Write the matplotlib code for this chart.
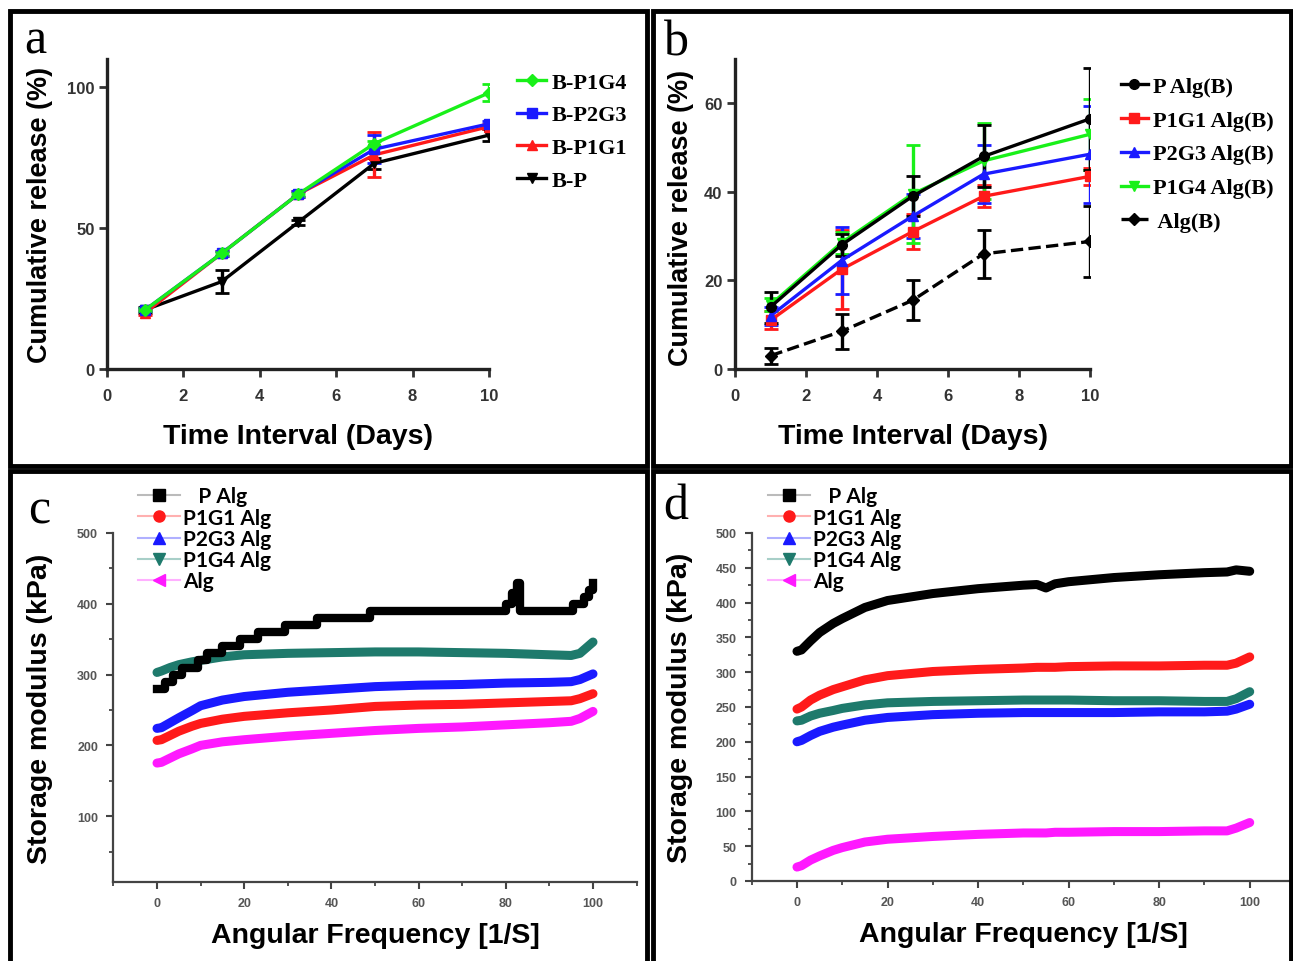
#!/usr/bin/env python3
"""
Four-panel figure: cumulative release curves (a, b) and storage modulus sweeps (c, d).
Output: out.png (1293x962)
"""
import matplotlib
matplotlib.use("Agg")
import matplotlib.pyplot as plt
from matplotlib.lines import Line2D
from matplotlib.patches import Rectangle
from matplotlib.ticker import MultipleLocator

# ---- panel a: cumulative release, days ----
days = [1, 3, 5, 7, 10]
a_p1g4 = [21, 41, 62, 80, 98]
a_p1g4_err = [0.5, 0.5, 0.5, 1, 3]
a_p2g3 = [21, 41, 62, 78, 87]
a_p2g3_err = [0.5, 1, 1, 5, 1]
a_p1g1 = [20, 41, 62, 76, 86]
a_p1g1_err = [1, 1, 1, 8, 1]
a_bp = [21, 31, 52, 73, 83]
a_bp_err = [1, 4, 1, 2, 2]

# ---- panel b ----
b_palg = [14, 28, 39, 48, 56.5]
b_palg_err = [3.5, 2.5, 4.5, 7, 11.5]
b_p1g1 = [11, 22.5, 31, 39, 43.5]
b_p1g1_err = [2, 9, 4, 2.5, 2]
b_p2g3 = [12, 24.5, 34.5, 44, 48.5]
b_p2g3_err = [2, 7.5, 5, 6.5, 11]
b_p1g4 = [14.5, 28.5, 39.5, 47, 53]
b_p1g4_err = [1.5, 2.5, 11, 8.5, 8]
b_alg = [3, 8.5, 15.5, 26, 28.8]
b_alg_err = [1.8, 4, 4.5, 5.5, 8]

# ---- panel c: storage modulus vs angular frequency ----
c_black_freq = [0, 1.8, 3.7, 5.7, 9.5, 11.4, 14.8, 19, 23.2, 29.4, 36.6, 48.9,
                80, 81.5, 82.5, 83.3, 95.4, 98, 99, 100]
c_black = [280, 290, 300, 310, 320, 330, 340, 350, 360, 370, 380, 390,
           400, 415, 430, 390, 400, 410, 420, 430]
c_freq = [0, 1, 3, 5, 8, 10, 15, 20, 30, 40, 50, 60, 70, 80, 90, 95, 97, 100]
c_teal = [303, 305, 310, 314, 318, 320, 325, 328, 330, 331, 332, 332, 331, 330, 328, 327, 330, 346]
c_blue = [224, 225, 232, 239, 249, 256, 264, 269, 275, 279, 283, 285, 286, 288, 289, 290, 293, 301]
c_red = [207, 208, 214, 220, 227, 231, 237, 241, 246, 250, 255, 257, 258, 260, 262, 263, 266, 273]
c_magenta = [175, 176, 182, 188, 195, 200, 205, 208, 213, 217, 221, 224, 226, 229, 232, 234, 238, 248]

# ---- panel d ----
d_freq = [0, 1, 3, 5, 8, 10, 15, 20, 30, 40, 50, 53, 55, 57, 60, 70, 80, 90, 95, 97, 100]
d_black = [330, 332, 345, 357, 370, 377, 393, 403, 413, 420, 425, 426, 421, 427, 430, 436, 440, 443, 444, 447, 445]
d_red = [247, 250, 260, 267, 275, 279, 289, 295, 301, 304, 306, 307, 307, 307, 308, 309, 309, 310, 310, 313, 322]
d_teal = [230, 231, 237, 241, 245, 248, 253, 256, 258, 259, 260, 260, 260, 260, 260, 259, 259, 258, 258, 262, 272]
d_blue = [200, 202, 209, 215, 221, 224, 231, 235, 239, 241, 242, 242, 242, 242, 242, 242, 243, 243, 244, 247, 254]
d_magenta = [20, 22, 30, 36, 44, 48, 56, 60, 64, 67, 69, 69, 69, 70, 70, 71, 71, 72, 72, 76, 84]

mod_labels = ["P Alg", "P1G1 Alg", "P2G3 Alg", "P1G4 Alg", "Alg"]

GREEN = "#19f019"
BLUE = "#1a1aff"
RED = "#ff1a1a"
TEAL = "#1e7a6c"
MAGENTA = "#ff19ff"

W, H = 1293, 962
fig = plt.figure(figsize=(W / 100, H / 100), dpi=100)


def fx(px):
    return px / W


def fy(py):
    return 1 - py / H


# panel borders
for x0, y0, x1, y1 in [(10, 12, 647, 467), (653, 12, 1291, 467),
                       (10, 472, 647, 970), (653, 472, 1291, 970)]:
    fig.patches.append(Rectangle((fx(x0), fy(y1)), fx(x1 - x0), (y1 - y0) / H,
                                 transform=fig.transFigure, fill=False,
                                 ec="black", lw=3.5, zorder=0))


def prism_axes(ax):
    for s in ["top", "right"]:
        ax.spines[s].set_visible(False)
    for s in ["left", "bottom"]:
        ax.spines[s].set_linewidth(2.4)
        ax.spines[s].set_color("#222222")
    ax.tick_params(direction="out", length=6, width=2, labelsize=12, colors="#333333", pad=3)
    ax.tick_params(axis="x", pad=8)
    for lbl in ax.get_xticklabels() + ax.get_yticklabels():
        lbl.set_fontweight("bold")
        lbl.set_fontfamily("Liberation Sans")


def release_series(ax, y, err, color, marker, ls="-", ms=7):
    ax.errorbar(days, y, yerr=err, color=color, marker=marker, ms=ms, lw=2.4, ls=ls,
                capsize=5, capthick=2, elinewidth=2.4)
    return Line2D([], [], color=color, marker=marker, ms=ms, lw=2.4, ls=ls)


LABEL_A = dict(fontsize=20.5, fontweight="bold", family="Liberation Sans")
YLABEL_A = dict(fontsize=19.5, fontweight="bold", family="Liberation Sans")
LEG_A = {"family": "Liberation Serif", "weight": "bold", "size": 16}

# ---------------- panel a ----------------
ax_a = fig.add_axes([fx(107), fy(370), fx(489 - 107), (370 - 60) / H])
h_bp = release_series(ax_a, a_bp, a_bp_err, "black", "v")
h_p1g1 = release_series(ax_a, a_p1g1, a_p1g1_err, RED, "^")
h_p2g3 = release_series(ax_a, a_p2g3, a_p2g3_err, BLUE, "s")
h_p1g4 = release_series(ax_a, a_p1g4, a_p1g4_err, GREEN, "D", ms=6)
ax_a.set_xlim(0, 10)
ax_a.set_ylim(0, 110)
ax_a.set_xticks(range(0, 11, 2))
ax_a.set_yticks([0, 50, 100])
prism_axes(ax_a)
ax_a.set_xlabel("Time Interval (Days)", labelpad=14, **LABEL_A)
ax_a.set_ylabel("Cumulative release (%)", **YLABEL_A)
ax_a.yaxis.set_label_coords((53 - 107) / 382, 0.5)
fig.legend([h_p1g4, h_p2g3, h_p1g1, h_bp], ["B-P1G4", "B-P2G3", "B-P1G1", "B-P"],
           loc="upper left", bbox_to_anchor=(fx(506), fy(62)), frameon=False, prop=LEG_A,
           handlelength=1.3, handletextpad=0.25, labelspacing=0.55, borderpad=0)
fig.text(fx(24), fy(54), "a", fontsize=36, family="Liberation Serif")

# ---------------- panel b ----------------
ax_b = fig.add_axes([fx(735), fy(370), fx(1090 - 735), (370 - 60) / H])
h_alg = release_series(ax_b, b_alg, b_alg_err, "black", "D", ls="--", ms=6)
h_r = release_series(ax_b, b_p1g1, b_p1g1_err, RED, "s")
h_bl = release_series(ax_b, b_p2g3, b_p2g3_err, BLUE, "^")
h_g = release_series(ax_b, b_p1g4, b_p1g4_err, GREEN, "v")
h_k = release_series(ax_b, b_palg, b_palg_err, "black", "o")
ax_b.set_xlim(0, 10)
ax_b.set_ylim(0, 70)
ax_b.set_xticks(range(0, 11, 2))
ax_b.set_yticks([0, 20, 40, 60])
prism_axes(ax_b)
ax_b.set_xlabel("Time Interval (Days)", labelpad=14, **LABEL_A)
ax_b.set_ylabel("Cumulative release (%)", **YLABEL_A)
ax_b.yaxis.set_label_coords((694 - 735) / 355, 0.49)
fig.legend([h_k, h_r, h_bl, h_g, h_alg],
           ["P Alg(B)", "P1G1 Alg(B)", "P2G3 Alg(B)", "P1G4 Alg(B)", " Alg(B)"],
           loc="upper left", bbox_to_anchor=(fx(1110), fy(66)), frameon=False, prop=LEG_A,
           handlelength=1.2, handletextpad=0.25, labelspacing=0.6, borderpad=0)
fig.text(fx(664), fy(56), "b", fontsize=36, family="Liberation Serif")


# ---------------- panels c, d ----------------
def origin_axes(ax, ymajor, yminor):
    for s in ["top", "right"]:
        ax.spines[s].set_visible(False)
    for s in ["left", "bottom"]:
        ax.spines[s].set_linewidth(1.6)
        ax.spines[s].set_color("#444444")
    ax.xaxis.set_major_locator(MultipleLocator(20))
    ax.xaxis.set_minor_locator(MultipleLocator(10))
    ax.yaxis.set_major_locator(MultipleLocator(ymajor))
    ax.yaxis.set_minor_locator(MultipleLocator(yminor))
    ax.tick_params(which="major", direction="out", length=5, width=1.5,
                   labelsize=9, colors="#444444", pad=6)
    ax.tick_params(which="minor", direction="out", length=3, width=1.3, colors="#444444")
    for lbl in ax.get_xticklabels() + ax.get_yticklabels():
        lbl.set_fontweight("bold")
        lbl.set_fontfamily("Liberation Sans")
        lbl.set_color("#555555")


def modulus_legend(ax, left_px, top_px):
    colors = ["black", RED, BLUE, TEAL, MAGENTA]
    light = ["#bbbbbb", "#ffb0b0", "#b0b0ff", "#a8cfc8", "#ffb0ff"]
    markers = ["s", "o", "^", "v", "<"]
    handles = [Line2D([], [], color=lc, lw=1.5, marker=m, ms=8, mfc=c, mec=c)
               for c, lc, m in zip(colors, light, markers)]
    labels = ["   " + mod_labels[0]] + mod_labels[1:]
    ax.legend(handles, labels, loc="upper left", bbox_to_anchor=(fx(left_px), fy(top_px)),
              bbox_transform=fig.transFigure, frameon=False,
              prop={"family": ["Lato", "Liberation Sans"], "weight": "bold", "size": 15},
              handlelength=2.0, handletextpad=0.15, labelspacing=0.06, borderpad=0)


LABEL_C = dict(fontsize=20.5, fontweight="bold", family="Liberation Sans")

ax_c = fig.add_axes([fx(113.4), fy(883), fx(636.6 - 113.4), (883 - 534) / H])
ax_c.plot(c_black_freq, c_black, color="black", lw=6, drawstyle="steps-post", zorder=3)
ax_c.plot(c_freq, c_teal, color=TEAL, lw=6.5, solid_capstyle="round", zorder=2)
ax_c.plot(c_freq, c_blue, color=BLUE, lw=6.5, solid_capstyle="round")
ax_c.plot(c_freq, c_red, color=RED, lw=6.5, solid_capstyle="round")
ax_c.plot(c_freq, c_magenta, color=MAGENTA, lw=6.5, solid_capstyle="round")
ax_c.set_xlim(-10, 110)
ax_c.set_ylim(7, 500)
origin_axes(ax_c, 100, 50)
ax_c.set_yticks([100, 200, 300, 400, 500])
ax_c.set_xlabel("Angular Frequency [1/S]", labelpad=9, **LABEL_C)
ax_c.set_ylabel("Storage modulus (kPa)", **LABEL_C)
ax_c.yaxis.set_label_coords((53 - 113.4) / 523.2, 0.5)
modulus_legend(ax_c, 128, 477)
fig.text(fx(28), fy(524), "c", fontsize=36, family="Liberation Serif")

ax_d = fig.add_axes([fx(751.7), fy(882), fx(1295 - 751.7), (882 - 534) / H])
ax_d.plot(d_freq, d_black, color="black", lw=6.5, solid_capstyle="round", zorder=3)
ax_d.plot(d_freq, d_red, color=RED, lw=6.5, solid_capstyle="round")
ax_d.plot(d_freq, d_teal, color=TEAL, lw=6.5, solid_capstyle="round")
ax_d.plot(d_freq, d_blue, color=BLUE, lw=6.5, solid_capstyle="round")
ax_d.plot(d_freq, d_magenta, color=MAGENTA, lw=6.5, solid_capstyle="round")
ax_d.set_xlim(-10, 110)
ax_d.set_ylim(0, 500)
origin_axes(ax_d, 50, 25)
ax_d.set_xlabel("Angular Frequency [1/S]", labelpad=9, **LABEL_C)
ax_d.set_ylabel("Storage modulus (kPa)", **LABEL_C)
ax_d.yaxis.set_label_coords((693 - 751.7) / 543.3, 0.5)
modulus_legend(ax_d, 758, 477)
fig.text(fx(663), fy(520), "d", fontsize=36, family="Liberation Serif")

fig.savefig("out.png", dpi=100)
plt.close(fig)
